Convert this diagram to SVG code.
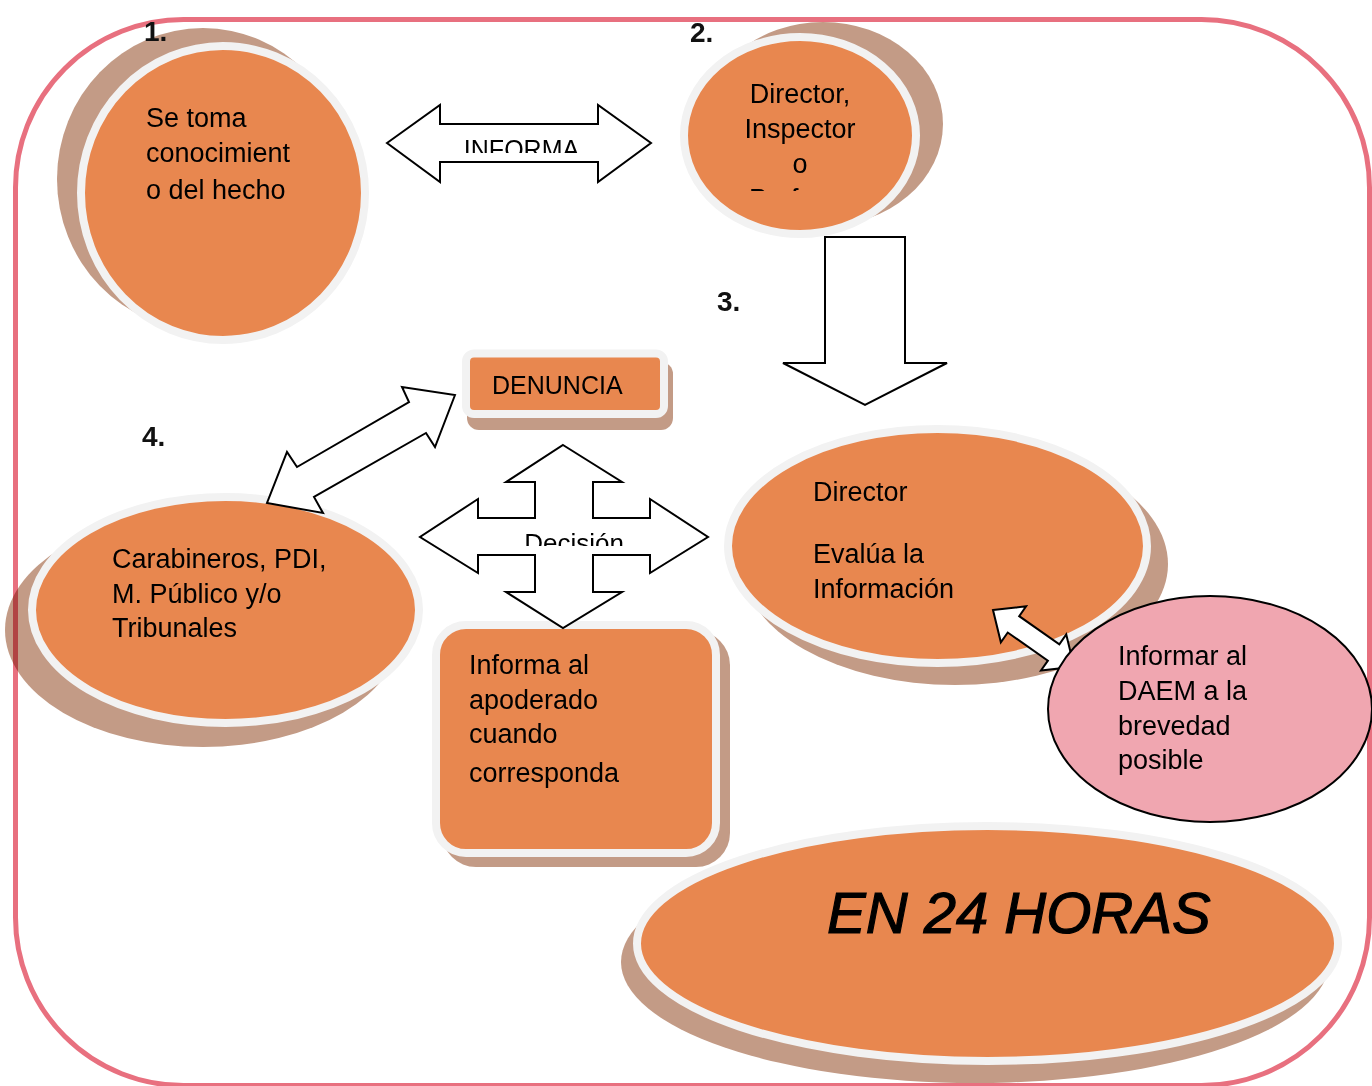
<svg xmlns="http://www.w3.org/2000/svg" width="1372" height="1086" viewBox="0 0 1372 1086">
<defs>
<style>
.frame{fill:none;stroke:#E8707F;stroke-width:5}
.shadow{fill:#C39B86;mix-blend-mode:multiply}
.body{fill:#E8874F;stroke:#F2F2F2;stroke-width:8}
.arrow{fill:#FFFFFF;stroke:#000000;stroke-width:2;stroke-linejoin:miter}
.t{font-family:"Liberation Sans",Arial,sans-serif;font-size:27px;fill:#000000}
.num{font-family:"Liberation Sans",Arial,sans-serif;font-size:28px;font-weight:bold;fill:#111111}
</style>
<clipPath id="clipInforma"><rect x="440" y="124" width="158" height="29"/></clipPath>
<clipPath id="clipDecision"><rect x="478" y="518" width="172" height="28"/></clipPath>
<clipPath id="clipNode2"><rect x="680" y="60" width="240" height="131"/></clipPath>
</defs>
<rect width="1372" height="1086" fill="#FFFFFF"/>
<rect class="frame" x="15.5" y="19.5" width="1354" height="1066" rx="168" ry="168"/>

<g id="node1">
<ellipse class="shadow" cx="203" cy="179" rx="146" ry="151"/>
<ellipse class="body" cx="223" cy="193" rx="142" ry="147"/>
<text class="t" x="146" y="127">Se toma</text>
<text class="t" x="146" y="162">conocimient</text>
<text class="t" x="146" y="199">o del hecho</text>
</g>
<text class="num" x="144" y="41">1.</text>

<g id="node2">
<ellipse class="shadow" cx="823" cy="124" rx="120" ry="102"/>
<ellipse class="body" cx="800" cy="135.5" rx="116" ry="98.5"/>
<g clip-path="url(#clipNode2)">
<text class="t" x="800" y="103" text-anchor="middle">Director,</text>
<text class="t" x="800" y="138" text-anchor="middle">Inspector</text>
<text class="t" x="800" y="173" text-anchor="middle">o</text>
<text class="t" x="800" y="208" text-anchor="middle">Profesor</text>
</g>
</g>
<text class="num" x="690" y="42">2.</text>
<text class="num" x="717" y="311">3.</text>
<text class="num" x="142" y="446">4.</text>

<g id="node-denuncia">
<rect class="shadow" x="467" y="362" width="206" height="68" rx="12" ry="12"/>
<rect class="body" x="466" y="353.5" width="198" height="60.5" rx="8" ry="8"/>
<text class="t" x="492" y="394" style="font-size:25px">DENUNCIA</text>
</g>

<g id="node4">
<ellipse class="shadow" cx="203" cy="630" rx="198" ry="117"/>
<ellipse class="body" cx="225.5" cy="610" rx="193.5" ry="113"/>
<text class="t" x="112" y="568">Carabineros, PDI,</text>
<text class="t" x="112" y="603">M. Público y/o</text>
<text class="t" x="112" y="637">Tribunales</text>
</g>

<g id="node-apoderado">
<rect class="shadow" x="442" y="631" width="288" height="236" rx="34" ry="34"/>
<rect class="body" x="436" y="625" width="280" height="228" rx="30" ry="30"/>
<text class="t" x="469" y="674">Informa al</text>
<text class="t" x="469" y="709">apoderado</text>
<text class="t" x="469" y="743">cuando</text>
<text class="t" x="469" y="782">corresponda</text>
</g>

<g id="node-director">
<ellipse class="shadow" cx="955" cy="564" rx="213" ry="121"/>
<ellipse class="body" cx="937.5" cy="546" rx="209.5" ry="117"/>
<text class="t" x="813" y="501">Director</text>
<text class="t" x="813" y="563">Evalúa la</text>
<text class="t" x="813" y="598">Información</text>
</g>

<g id="connectors">
<path id="arrow-informa" class="arrow" d="M387,143 L440,105 L440,124 L598,124 L598,105 L651,143 L598,182 L598,162 L440,162 L440,182 Z"/>
<text class="t" x="521.5" y="158" text-anchor="middle" style="font-size:25px" clip-path="url(#clipInforma)">INFORMA</text>
<path id="arrow-down" class="arrow" d="M825,237 L905,237 L905,363 L947,363 L865,405 L783,363 L825,363 Z"/>
<path id="arrow-diag" class="arrow" d="M455,395 L435,447 L426,433 L314,497 L323,513 L267,503 L287,452 L297,467 L409,402 L402,387 Z"/>
<path id="arrow-decision" class="arrow" d="M563,445 L622,482 L593,482 L593,518 L650,518 L650,499 L708,537 L650,573 L650,555 L593,555 L593,592 L622,592 L563,628 L506,592 L535,592 L535,555 L478,555 L478,573 L420,537 L478,499 L478,518 L535,518 L535,482 L506,482 Z"/>
<text class="t" x="574" y="552" text-anchor="middle" style="font-size:26px" clip-path="url(#clipDecision)">Decisión</text>
<path id="arrow-daem" class="arrow" transform="translate(993,610) rotate(35)" d="M0,0 L25,-22 L25,-10 L74,-10 L74,-22 L99,0 L74,22 L74,10 L25,10 L25,22 Z"/>
</g>

<g id="node-daem">
<ellipse cx="1210" cy="709" rx="162" ry="113" fill="#F0A6B0" stroke="#000000" stroke-width="2"/>
<text class="t" x="1118" y="665">Informar al</text>
<text class="t" x="1118" y="700">DAEM a la</text>
<text class="t" x="1118" y="735">brevedad</text>
<text class="t" x="1118" y="769">posible</text>
</g>

<g id="node-24h">
<ellipse class="shadow" cx="975" cy="962" rx="354" ry="121"/>
<ellipse class="body" cx="987.5" cy="943.5" rx="350.5" ry="117.5"/>
<text class="t" x="827" y="933" style="font-size:58px;font-style:italic;stroke:#000000;stroke-width:1.2">EN 24 HORAS</text>
</g>
</svg>
